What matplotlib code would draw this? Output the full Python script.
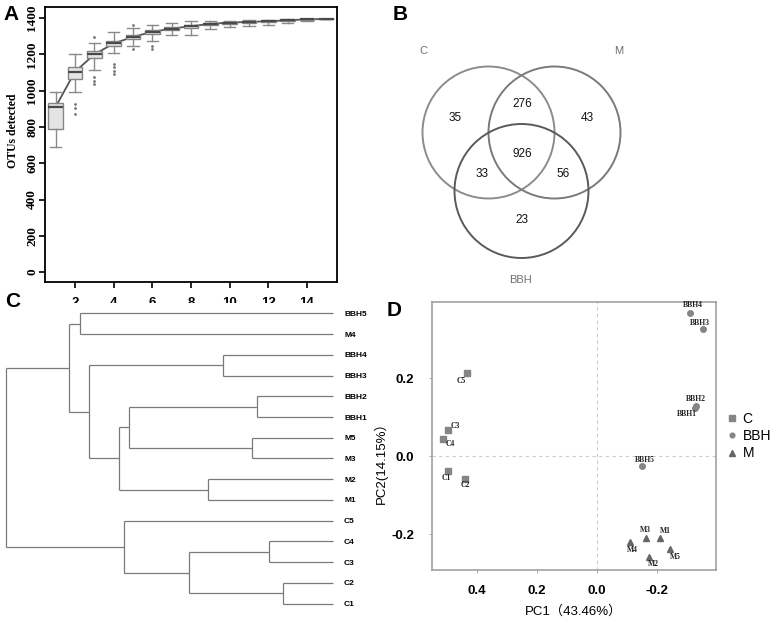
import numpy as np
import matplotlib
matplotlib.use('Agg')
import matplotlib.pyplot as plt
from matplotlib.patches import Circle

# ---- data -------------------------------------------------------------
# A: OTUs detected vs. number of samples (box statistics)
n_samples = np.arange(1, 16)
otu_med = [911, 1105, 1200, 1261, 1297, 1325, 1343, 1356, 1369, 1376, 1380, 1383, 1389, 1394, 1396]
otu_q1 = [789, 1063, 1178, 1246, 1283, 1314, 1334, 1347, 1361, 1369, 1372, 1378, 1386, 1392, 1395]
otu_q3 = [935, 1131, 1219, 1277, 1310, 1334, 1350, 1361, 1376, 1380, 1383, 1387, 1391, 1396, 1397]
otu_lo = [688, 995, 1115, 1206, 1246, 1274, 1306, 1310, 1343, 1350, 1359, 1365, 1374, 1385, 1395]
otu_hi = [995, 1200, 1264, 1325, 1347, 1365, 1374, 1383, 1385, 1387, 1389, 1391, 1394, 1396, 1397]
otu_out = [[], [929, 904, 871], [1297, 1076, 1054, 1036], [1150, 1130, 1110, 1092],
           [1361, 1228], [1246, 1228], [], [], [], [], [], [], [], [], []]

# B: shared OTUs between groups
venn_groups = ['C', 'M', 'BBH']
venn_counts = {'C': 35, 'M': 43, 'BBH': 23, 'C&M': 276, 'C&BBH': 33, 'M&BBH': 56, 'all': 926}

# C: hierarchical clustering (merge height, left, right)
leaf_order = ['BBH5', 'M4', 'BBH4', 'BBH3', 'BBH2', 'BBH1', 'M5', 'M3',
              'M2', 'M1', 'C5', 'C4', 'C3', 'C2', 'C1']
tree = (1.0,
        (0.807,
         (0.774, 'BBH5', 'M4'),
         (0.746,
          (0.336, 'BBH4', 'BBH3'),
          (0.654,
           (0.624, (0.232, 'BBH2', 'BBH1'), (0.248, 'M5', 'M3')),
           (0.382, 'M2', 'M1')))),
        (0.639, 'C5',
         (0.440, (0.196, 'C4', 'C3'), (0.153, 'C2', 'C1'))))

# D: PCA scores
c_names = ['C1', 'C2', 'C3', 'C4', 'C5']
c_pc1 = [0.496, 0.440, 0.498, 0.514, 0.434]
c_pc2 = [-0.038, -0.058, 0.066, 0.043, 0.214]
bbh_names = ['BBH1', 'BBH2', 'BBH3', 'BBH4', 'BBH5']
bbh_pc1 = [-0.327, -0.330, -0.352, -0.310, -0.151]
bbh_pc2 = [0.122, 0.128, 0.327, 0.366, -0.026]
m_names = ['M1', 'M2', 'M3', 'M4', 'M5']
m_pc1 = [-0.210, -0.174, -0.162, -0.110, -0.243]
m_pc2 = [-0.209, -0.258, -0.209, -0.220, -0.239]

# label offsets for the PCA point names (pixels: right, down)
label_off = {'C1': (-2, 7), 'C2': (0, 6), 'C3': (8, -4), 'C4': (7, 5), 'C5': (-6, 8),
             'BBH1': (-8, 6), 'BBH2': (0, -7), 'BBH3': (-3, -6), 'BBH4': (3, -8), 'BBH5': (3, -6),
             'M1': (5, -7), 'M2': (4, 7), 'M3': (0, -8), 'M4': (2, 8), 'M5': (6, 8)}

SANS = 'Liberation Sans'
SERIF = 'Liberation Serif'
W, H = 777, 621
fig = plt.figure(figsize=(W / 100, H / 100), dpi=100)


def px_axes(x0, y0, x1, y1):
    return fig.add_axes([x0 / W, 1 - y1 / H, (x1 - x0) / W, (y1 - y0) / H])


# ---- A ----------------------------------------------------------------
ax = px_axes(45, 7, 337, 282)
stats = []
for i in range(len(n_samples)):
    stats.append(dict(med=otu_med[i], q1=otu_q1[i], q3=otu_q3[i],
                      whislo=otu_lo[i], whishi=otu_hi[i], fliers=otu_out[i]))
ax.plot(n_samples, otu_med, color='#555555', lw=1.3, zorder=1)
ax.bxp(stats, positions=n_samples, widths=0.75, capwidths=0.6, patch_artist=True,
       boxprops=dict(facecolor='#e4e4e4', edgecolor='#858585', lw=1),
       medianprops=dict(color='#4a4a4a', lw=1.6),
       whiskerprops=dict(color='#8a8a8a', lw=1),
       capprops=dict(color='#8a8a8a', lw=1),
       flierprops=dict(marker='.', markersize=2, markerfacecolor='#777777',
                       markeredgecolor='#777777', linestyle='none'))
ax.set_xlim(0.45, 15.55)
ax.set_ylim(-55, 1462)
ax.set_xticks(range(2, 15, 2))
ax.set_xticklabels([str(v) for v in range(2, 15, 2)], fontfamily=SANS,
                   fontweight='bold', fontsize=9.5)
ax.set_yticks(range(0, 1401, 200))
ax.set_yticklabels([str(v) for v in range(0, 1401, 200)], fontfamily=SERIF,
                   fontweight='bold', fontsize=9.5, rotation=90, va='center')
ax.tick_params(axis='x', length=4, width=1.2, pad=7)
ax.tick_params(axis='y', length=4, width=1.2, pad=1)
ax.set_ylabel('OTUs detected', fontfamily=SERIF, fontweight='bold', fontsize=8.5)
ax.yaxis.set_label_coords(-0.09, 0.55)
for s in ax.spines.values():
    s.set_linewidth(1.3)

# ---- B ----------------------------------------------------------------
axb = px_axes(390, 0, 777, 290)
axb.set_xlim(390, 777)
axb.set_ylim(290, 0)
axb.axis('off')
circ = {'C': ((488.5, 132.5), 66, '#8c8c8c'),
        'M': ((554.5, 132.5), 66, '#7a7a7a'),
        'BBH': ((521.5, 191), 67, '#5a5a5a')}
for g in venn_groups:
    c, r, col = circ[g]
    axb.add_patch(Circle(c, r, fill=False, edgecolor=col, lw=1.4))
name_pos = {'C': (423, 51), 'M': (619, 51), 'BBH': (521, 280)}
for g in venn_groups:
    axb.text(*name_pos[g], g, fontfamily=SANS, fontsize=8, color='#707070',
             ha='center', va='center')
num_pos = {'C': (455, 118), 'M': (587, 118), 'BBH': (522, 220), 'C&M': (522, 104),
           'C&BBH': (482, 174), 'M&BBH': (563, 174), 'all': (522, 154)}
for k, v in venn_counts.items():
    axb.text(*num_pos[k], str(v), fontfamily=SANS, fontsize=8.5, color='#111111',
             ha='center', va='center')

# ---- C ----------------------------------------------------------------
axc = px_axes(6, 303, 333, 614)


def draw_tree(node):
    if isinstance(node, str):
        return leaf_order.index(node), 0.0
    h, a, b = node
    ya, ha = draw_tree(a)
    yb, hb = draw_tree(b)
    kw = dict(color='#7a7a7a', lw=0.9, clip_on=False, solid_capstyle='butt')
    axc.plot([ha, h], [ya, ya], **kw)
    axc.plot([hb, h], [yb, yb], **kw)
    axc.plot([h, h], [ya, yb], **kw)
    return (ya + yb) / 2, h


draw_tree(tree)
axc.set_xlim(1.0, 0.0)
axc.set_ylim(len(leaf_order) - 0.5, -0.5)
for s in axc.spines.values():
    s.set_visible(False)
axc.set_xticks([])
axc.yaxis.tick_right()
axc.set_yticks(range(len(leaf_order)))
axc.set_yticklabels(leaf_order, fontfamily=SANS, fontweight='bold', fontsize=6)
axc.tick_params(axis='y', length=0, pad=8)

# ---- D ----------------------------------------------------------------
axd = px_axes(432, 302, 716, 570)
axd.axvline(0, color='#cccccc', lw=0.8, ls=(0, (3, 3)), zorder=0)
axd.axhline(0, color='#cccccc', lw=0.8, ls=(0, (3, 3)), zorder=0)
axd.plot(c_pc1, c_pc2, 's', color='#858585', ms=4.5, label='C')
axd.plot(bbh_pc1, bbh_pc2, 'o', color='#858585', ms=4, label='BBH')
axd.plot(m_pc1, m_pc2, '^', color='#666666', ms=5, label='M')
for names, xs, ys in [(c_names, c_pc1, c_pc2), (bbh_names, bbh_pc1, bbh_pc2),
                      (m_names, m_pc1, m_pc2)]:
    for n, x, y in zip(names, xs, ys):
        dx, dy = label_off[n]
        axd.annotate(n, (x, y), xytext=(dx, -dy), textcoords='offset pixels',
                     ha='center', va='center', fontfamily=SERIF, fontweight='bold',
                     fontsize=5.5, color='#222222')
axd.set_xlim(0.55, -0.397)
axd.set_ylim(-0.292, 0.395)
axd.set_xticks([0.4, 0.2, 0.0, -0.2])
axd.set_xticklabels(['0.4', '0.2', '0.0', '-0.2'], fontfamily=SANS, fontweight='bold', fontsize=9.5)
axd.set_yticks([0.2, 0.0, -0.2])
axd.set_yticklabels(['0.2', '0.0', '-0.2'], fontfamily=SANS, fontweight='bold', fontsize=9.5)
axd.tick_params(length=2, width=0.6, color='#999999')
axd.tick_params(axis='x', pad=9)
axd.tick_params(axis='y', pad=11)
for s in axd.spines.values():
    s.set_color('#9a9a9a')
    s.set_linewidth(1.1)
axd.set_xlabel('PC1（43.46%）', family=[SANS, 'Noto Sans CJK SC'], fontsize=9.5, labelpad=6)
axd.set_ylabel('PC2(14.15%）', family=[SANS, 'Noto Sans CJK SC'], fontsize=9.5)
axd.yaxis.set_label_coords(-0.155, 0.41)
axd.legend(loc='center left', bbox_to_anchor=(726 / W, 1 - 436 / H),
           bbox_transform=fig.transFigure, frameon=False, borderpad=0, borderaxespad=0,
           handlelength=0.8, handletextpad=0.4, labelspacing=0.25, markerscale=0.85,
           prop=dict(family=SANS, size=10))

# ---- panel letters -----------------------------------------------------
for letter, (x, y) in {'A': (11, 15), 'B': (400, 14), 'C': (13, 302), 'D': (394, 310)}.items():
    fig.text(x / W, 1 - y / H, letter, fontfamily=SANS, fontweight='bold', fontsize=15,
             ha='center', va='center')

fig.savefig('out.png', dpi=100)
